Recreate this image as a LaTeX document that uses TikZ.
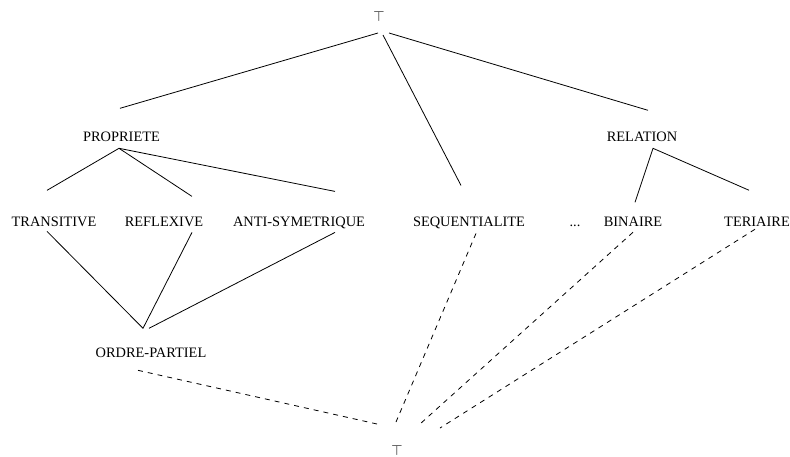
\documentclass[tikz,border=0pt]{standalone}
\usepackage{fontspec}
\setmainfont{Liberation Serif}
\usetikzlibrary{calc}
\begin{document}
\begin{tikzpicture}[x=1pt,y=-1pt,
  lbl/.style={anchor=base,inner sep=0pt,font=\fontsize{14.4}{17}\selectfont},
  sym/.style={anchor=base,inner sep=0pt,text=black,font=\fontsize{15}{17}\selectfont},
  edge/.style={line width=0.8pt},
  dedge/.style={line width=0.8pt,dash pattern=on 5pt off 5pt}]
\useasboundingbox (0,0) rectangle (790,456);
\node[sym] (top) at (379,21) {$\top$};
\node[sym] (bot) at (397,455) {$\top$};
\node[lbl] (prop) at (121.5,141.5) {PROPRIETE};
\node[lbl] (rel) at (642,141.5) {RELATION};
\node[lbl] (trans) at (54,226) {TRANSITIVE};
\node[lbl] (refl) at (164,226) {REFLEXIVE};
\node[lbl] (anti) at (299,226) {ANTI-SYMETRIQUE};
\node[lbl] (seq) at (469,226) {SEQUENTIALITE};
\node[lbl] (dots) at (575,226) {...};
\node[lbl] (bin) at (633,226) {BINAIRE};
\node[lbl] (ter) at (757,226) {TERIAIRE};
\node[lbl] (ordre) at (151,357.5) {ORDRE-PARTIEL};
% top
\draw[edge] ($(top)+(-1,17)$) -- ($(prop)+(-1.5,-28.5)$);
\draw[edge] ($(top)+(4,19)$) -- ($(seq)+(-8,-37)$);
\draw[edge] ($(top)+(10,17)$) -- ($(rel)+(6,-26.5)$);
% propriete
\draw[edge] ($(trans)+(-7,-31)$) -- ($(prop)+(-2.5,11.5)$) -- ($(refl)+(28,-25)$);
\draw[edge] ($(prop)+(-2.5,11.5)$) -- ($(anti)+(36,-31)$);
% relation
\draw[edge] ($(bin)+(2,-19)$) -- ($(rel)+(11,11.5)$) -- ($(ter)+(-8,-31)$);
% ordre partiel
\draw[edge] ($(trans)+(-7,10)$) -- ($(ordre)+(-8,-24.5)$) -- ($(refl)+(28,11)$);
\draw[edge] ($(anti)+(36,10)$) -- ($(ordre)+(-2,-24.5)$);
% dashed to bottom
\draw[dedge] ($(ordre)+(-13,17.5)$) -- ($(bot)+(-20,-26)$);
\draw[dedge] ($(seq)+(7,11)$) -- ($(bot)+(-1,-28)$);
\draw[dedge] ($(bin)+(0,11)$) -- ($(bot)+(23,-26)$);
\draw[dedge] ($(ter)+(-2,8)$) -- ($(bot)+(43,-22)$);
\end{tikzpicture}
\end{document}
